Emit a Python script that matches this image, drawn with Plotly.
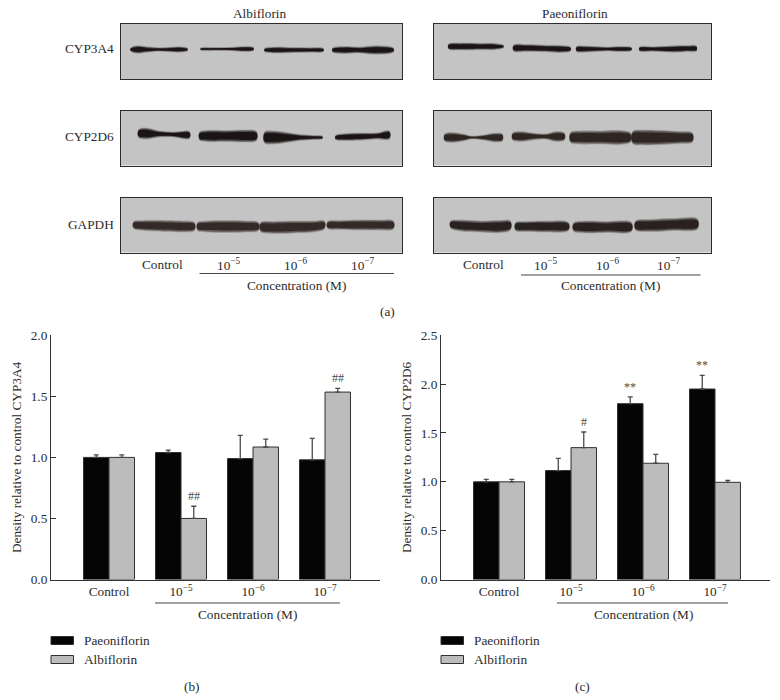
import plotly.graph_objects as go

FONT = "Liberation Serif"
TEXT = "#2b2b2b"
LINE = "#333333"
BLACK = "#050505"
GREY = "#bcbcbc"
PANEL = "#c4c4c4"
SIZE = 13.3

DOSE_LABELS = ["Control", "10<sup>−5</sup>", "10<sup>−6</sup>", "10<sup>−7</sup>"]
DOSE_POS = [0, 1, 2, 3]

# panel (b) CYP3A4
B_PAEONI = [1.0, 1.04, 0.99, 0.98]
B_PAEONI_ERR = [0.02, 0.02, 0.19, 0.175]
B_ALBI = [1.0, 0.5, 1.085, 1.535]
B_ALBI_ERR = [0.02, 0.10, 0.065, 0.03]
B_PAEONI_SIG = ["", "", "", ""]
B_ALBI_SIG = ["", "##", "", "##"]

# panel (c) CYP2D6
C_PAEONI = [1.0, 1.115, 1.8, 1.95]
C_PAEONI_ERR = [0.025, 0.125, 0.07, 0.14]
C_ALBI = [1.0, 1.35, 1.19, 0.995]
C_ALBI_ERR = [0.025, 0.16, 0.09, 0.02]
C_PAEONI_SIG = ["", "", "**", "**"]
C_ALBI_SIG = ["", "#", "", ""]

# western blot bands: (x along panel, centre y, thickness), in panel pixels
L_CYP3A4 = [
    ([10, 16, 26, 39, 49, 59, 67], [25.5] * 7, [2, 6.5, 4.5, 2.5, 3.5, 4.5, 1.5]),
    ([80, 96, 112, 126, 133], [25] * 5, [1, 2, 2.5, 4, 2]),
    ([144, 153, 173, 189, 203], [26] * 5, [2, 5, 4, 3.5, 2]),
    ([212, 223, 239, 256, 273], [26] * 5, [3, 6, 5, 7.5, 3]),
]
L_CYP2D6 = [
    ([18, 26, 39, 53, 69], [23, 23, 23.5, 24, 24.5], [7, 10, 5, 4, 6]),
    ([79, 86, 106, 126, 136], [25.5] * 5, [7, 10, 10, 11, 8]),
    ([144, 153, 166, 179, 193, 202], [27] * 6, [10, 12, 9, 5, 3, 1.5]),
    ([215, 226, 243, 256, 269], [27, 26.5, 26, 25.5, 24.5], [3, 6, 6, 5, 7]),
]
L_GAPDH = [
    ([13, 23, 46, 63, 74], [27.5, 28, 28.5, 29, 29], [6, 9, 10, 10, 7]),
    ([77, 86, 106, 126, 138], [29] * 5, [7, 10, 11, 10, 7]),
    ([140, 153, 173, 193, 204], [29.5, 30, 29.5, 29, 27.5], [8, 11, 11, 10, 7]),
    ([207, 219, 239, 259, 273], [27.5] * 5, [6, 8, 9, 9, 7]),
]
R_CYP3A4 = [
    ([15, 27, 47, 62, 70], [22.5] * 5, [4, 6, 5.5, 5, 1.5]),
    ([80, 93, 113, 127, 137], [24, 24, 24.5, 25, 25], [5, 6, 5.5, 6, 3]),
    ([143, 153, 173, 187, 198], [25] * 5, [4, 5, 3, 4, 2]),
    ([206, 220, 240, 253, 263], [25, 25, 25, 24.5, 24.5], [3, 3.5, 5.5, 5, 4]),
]
R_CYP2D6 = [
    ([11, 18, 30, 38, 50, 62, 69], [27] * 7, [6, 9, 6, 2, 4, 8, 6]),
    ([79, 87, 103, 113, 123, 131], [26] * 6, [6, 9, 5, 4.5, 9, 6]),
    ([137, 147, 167, 187, 197], [27] * 5, [9, 12, 12, 13, 8]),
    ([199, 210, 230, 247, 259], [27] * 5, [11, 14, 13, 11, 8]),
]
R_GAPDH = [
    ([17, 27, 47, 67, 77], [27, 28, 29, 29, 28], [6, 10, 10, 11, 8]),
    ([82, 93, 113, 135], [29] * 4, [7, 9, 10, 7]),
    ([140, 153, 173, 198], [29.5] * 4, [7, 11, 10, 8]),
    ([202, 217, 240, 264], [28, 28, 27, 26.5], [8, 11, 11, 9]),
]

W, H = 780, 700


def dom_x(a, b):
    return [a / W, b / W]


def dom_y(top, bottom):
    return [1 - bottom / H, 1 - top / H]


def label(text, x, y, size=SIZE, anchor="center", angle=0, color=TEXT):
    return dict(
        text=text, x=x / W, y=1 - y / H, xref="paper", yref="paper", showarrow=False,
        xanchor=anchor, yanchor="middle", textangle=angle, font=dict(size=size, color=color),
    )


fig = go.Figure()
layout_axes = {}
shapes = []
annotations = []

# ---- blots ----
PANEL_LEFTS = [(120.5, 402), (433.5, 711)]
PANEL_TOPS = [24, 110.5, 197.5]
BLOTS = [L_CYP3A4, L_CYP2D6, L_GAPDH, R_CYP3A4, R_CYP2D6, R_GAPDH]
BAND_COLORS = ["#15100e", "#15100e", "#2f2623", "#15100e", "#2a211e", "#241c19"]

ax = 3
k = 0
for left, right in PANEL_LEFTS:
    for top in PANEL_TOPS:
        bottom = top + 55
        layout_axes[f"xaxis{ax}"] = dict(
            domain=dom_x(left, right), range=[0, right - left], anchor=f"y{ax}", automargin=False,
            showgrid=False, zeroline=False, showticklabels=False, ticks="",
            showline=True, mirror=True, linecolor="#2c2c2c", linewidth=1.4, fixedrange=True,
        )
        layout_axes[f"yaxis{ax}"] = dict(
            domain=dom_y(top, bottom), range=[55, 0], anchor=f"x{ax}", automargin=False,
            showgrid=False, zeroline=False, showticklabels=False, ticks="",
            showline=True, mirror=True, linecolor="#2c2c2c", linewidth=1.4, fixedrange=True,
        )
        shapes.append(dict(
            type="rect", xref=f"x{ax} domain", yref=f"y{ax} domain", x0=0, x1=1, y0=0, y1=1,
            fillcolor=PANEL, line=dict(width=0), layer="below",
        ))
        for xs, ys, ts in BLOTS[k]:
            # soft halo first, dense core last
            for grow, extra, alpha in [(1.0, 2.0, 0.14), (1.0, 1.0, 0.25), (0.95, 0, 0.5), (0.72, 0, 0.9)]:
                upper = [y - (t * grow + extra) / 2 for y, t in zip(ys, ts)]
                lower = [y + (t * grow + extra) / 2 for y, t in zip(ys, ts)]
                fig.add_trace(go.Scatter(
                    x=xs + xs[::-1] + xs[:1], y=upper + lower[::-1] + upper[:1],
                    mode="lines", fill="toself", fillcolor=BAND_COLORS[k], opacity=alpha,
                    line=dict(width=0, shape="spline", smoothing=1.0),
                    xaxis=f"x{ax}", yaxis=f"y{ax}", showlegend=False, hoverinfo="skip",
                ))
        ax += 1
        k += 1

annotations += [
    label("Albiflorin", 260, 13),
    label("Paeoniflorin", 575, 13),
    label("CYP3A4", 116, 48, anchor="right"),
    label("CYP2D6", 116, 136.5, anchor="right"),
    label("GAPDH", 116, 225, anchor="right"),
    label("Concentration (M)", 296, 285),
    label("Concentration (M)", 610, 285),
    label("(a)", 387, 311),
    label("(b)", 192, 686),
    label("(c)", 582, 686),
    label("Concentration (M)", 247.5, 614),
    label("Concentration (M)", 643, 614),
]
for text, x in zip(DOSE_LABELS, [162.5, 229, 296, 363]):
    annotations.append(label(text, x, 264))
for text, x in zip(DOSE_LABELS, [483, 546, 608, 669]):
    annotations.append(label(text, x, 264))

rules = [(199.5, 394, 273.5), (521, 700.5, 275), (155, 340, 603), (557, 728, 603)]
for x0, x1, y in rules:
    shapes.append(dict(
        type="line", xref="paper", yref="paper", x0=x0 / W, x1=x1 / W,
        y0=1 - y / H, y1=1 - y / H, line=dict(color="#444444", width=1),
    ))


# ---- bar charts ----
def bar_panel(n, left, y_max, y_step, ytitle, paeoni, paeoni_err, albi, albi_err, paeoni_sig, albi_sig):
    xa, ya = ("x", "y") if n == 1 else (f"x{n}", f"y{n}")
    for name, vals, errs, color in [("Paeoniflorin", paeoni, paeoni_err, BLACK), ("Albiflorin", albi, albi_err, GREY)]:
        fig.add_trace(go.Bar(
            x=DOSE_POS, y=vals, name=name, xaxis=xa, yaxis=ya,
            marker=dict(color=color, line=dict(color="#303030", width=1)),
            error_y=dict(type="data", array=errs, symmetric=False, arrayminus=[0] * 4,
                         color="#4a4a4a", thickness=1.3, width=2.5),
            showlegend=False,
        ))
    suffix = "" if n == 1 else str(n)
    layout_axes[f"xaxis{suffix}"] = dict(
        domain=dom_x(left, left + 329), range=[-0.806, 3.764], anchor=ya, automargin=False,
        tickvals=DOSE_POS, ticktext=DOSE_LABELS, ticks="", showgrid=False, zeroline=False,
        showline=True, linecolor=LINE, linewidth=1, tickfont=dict(size=SIZE, color=TEXT),
    )
    layout_axes[f"yaxis{suffix}"] = dict(
        domain=dom_y(335.3, 579.5), range=[0, y_max], dtick=y_step, tickformat=".1f", anchor=xa,
        automargin=False, ticks="inside", ticklen=5, tickcolor=LINE, showgrid=False, zeroline=False,
        showline=True, linecolor=LINE, linewidth=1, tickfont=dict(size=SIZE, color=TEXT),
        title=dict(text=ytitle, font=dict(size=SIZE, color=TEXT), standoff=6),
    )
    offset = 0.177
    for i in DOSE_POS:
        for sig, val, err, dx in [(paeoni_sig[i], paeoni[i], paeoni_err[i], -offset),
                                  (albi_sig[i], albi[i], albi_err[i], offset)]:
            if sig:
                annotations.append(dict(
                    text=sig, x=i + dx, y=val + err, xref=xa, yref=ya, showarrow=False,
                    yanchor="bottom", yshift=1, font=dict(size=12, color="#4a4a4a"),
                ))
    # key below the chart
    for name, color, y in [("Paeoniflorin", BLACK, 640.5), ("Albiflorin", GREY, 659.5)]:
        shapes.append(dict(
            type="rect", xref="paper", yref="paper", x0=left / W, x1=(left + 22.5) / W,
            y0=1 - (y + 4) / H, y1=1 - (y - 4) / H, fillcolor=color, line=dict(color="#303030", width=1),
        ))
        annotations.append(label(name, left + 31, y, anchor="left"))


bar_panel(1, 51, 2.0, 0.5, "Density relative to control CYP3A4",
          B_PAEONI, B_PAEONI_ERR, B_ALBI, B_ALBI_ERR, B_PAEONI_SIG, B_ALBI_SIG)
bar_panel(2, 441, 2.5, 0.5, "Density relative to control CYP2D6",
          C_PAEONI, C_PAEONI_ERR, C_ALBI, C_ALBI_ERR, C_PAEONI_SIG, C_ALBI_SIG)

fig.update_layout(
    width=W, height=H,
    margin=dict(l=0, r=0, t=0, b=0, autoexpand=False),
    paper_bgcolor="white", plot_bgcolor="rgba(0,0,0,0)",
    font=dict(family=FONT, color=TEXT, size=SIZE),
    barmode="group", bargap=0.292, bargroupgap=0,
    showlegend=False,
    shapes=shapes, annotations=annotations,
    **layout_axes,
)

fig.write_html(
    "out.html",
    post_script="document.body.style.margin='0'",
    config=dict(displayModeBar=False),
)
